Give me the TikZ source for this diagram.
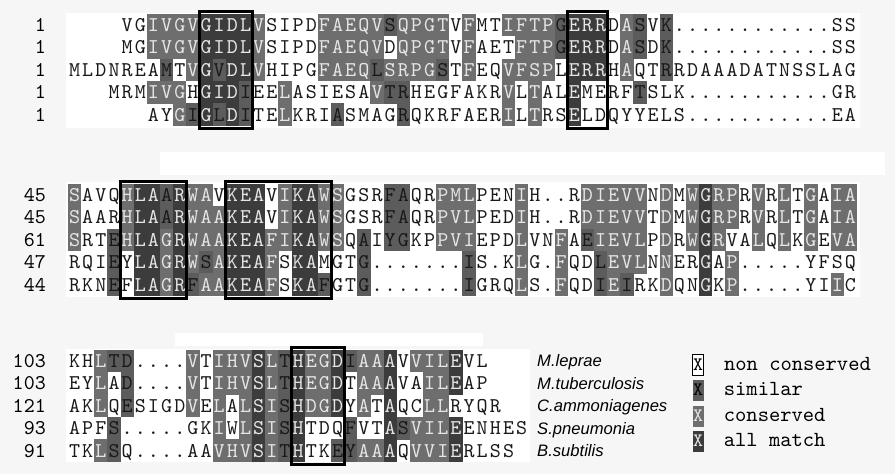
\documentclass[tikz,border=0pt]{standalone}
\usepackage{fontspec}
\newfontfamily\spfont{Liberation Sans}
\newfontfamily\seqfont{lmmono10-regular.otf}
\usepackage{xstring}
\usetikzlibrary{positioning}

\definecolor{pagebg}{HTML}{F6F6F6}
\definecolor{simgray}{HTML}{5C5C5C}
\definecolor{congray}{HTML}{6E6E6E}
\definecolor{allgray}{HTML}{3C3C3C}
\definecolor{lighttxt}{HTML}{E6E6E6}

\def\cw{13.15}\def\rh{22.4}
% one aligned row: row, first column, residues, shading classes
\newcommand{\alnrow}[4]{%
  \StrLen{#3}[\nres]
  \foreach \i in {1,...,\nres}{
    \StrChar{#3}{\i}[\resid]
    \StrChar{#4}{\i}[\rclass]
    \pgfmathsetmacro\bx{74.6+(#2+\i-1)*\cw}
    \pgfmathsetmacro\by{#1*\rh}
    \ifcase\rclass\relax
      \node[res] at (\bx,\by) {\resid};
    \or
      \node[res,fill=simgray] at (\bx,\by) {\resid};
    \or
      \node[res,fill=congray,text=lighttxt] at (\bx,\by) {\resid};
    \or
      \node[res,fill=allgray,text=lighttxt] at (\bx,\by) {\resid};
    \fi
  }}
% motif frame over columns #1..#2
\newcommand{\motif}[2]{%
  \pgfmathsetmacro\xa{68+#1*\cw}
  \pgfmathsetmacro\xb{68+(#2+1)*\cw}
  \draw[motifbox] (\xa,-14) rectangle (\xb,4*\rh+13.5);}

\begin{document}
\begin{tikzpicture}[x=1pt,y=-1pt,
  res/.style={inner sep=0pt,minimum width=13.3pt,minimum height=22.6pt,text height=12.8pt,text depth=0pt,font=\fontsize{21}{21}\seqfont,text=black!90},
  lbl/.style={anchor=east,inner sep=0pt,text height=12.8pt,text depth=0pt,font=\fontsize{21}{21}\seqfont},
  motifbox/.style={line width=3pt},
  key/.style={inner sep=0pt,minimum width=11pt,minimum height=21pt,font=\fontsize{19}{19}\seqfont},
  keytext/.style={anchor=west,inner sep=0pt,text height=10pt,text depth=0pt,font=\fontsize{21.5}{21.5}\seqfont},
  species/.style={anchor=west,inner sep=0pt,text height=11.9pt,text depth=0pt,font=\fontsize{16.6}{16.6}\spfont\itshape}]
  \useasboundingbox (0,0) rectangle (895,474);
  \fill[pagebg] (0,0) rectangle (895,474);
  \fill[white] (66,13) rectangle (860,128);
  \fill[white] (160,152) rectangle (885,175);
  \fill[white] (66,182) rectangle (860,297);
  \fill[white] (175,333) rectangle (483,346);
  \fill[white] (66,349) rectangle (530,462);

  % Block 1
  \begin{scope}[shift={(0,25)}]
    \foreach \n [count=\r from 0] in {1,1,1,1,1}
      \node[lbl] (numA\r) at (46,\r*\rh) {\n};
    \alnrow{0}{4}{VGIVGVGIDLVSIPDFAEQVSQPGTVFMTIFTPGERRDASVK............SS}
                 {00222233332000022222122220200222213330210100000000000000}
    \alnrow{1}{4}{MGIVGVGIDLVSIPDFAEQVDQPGTVFAETFTPGERRDASDK............SS}
                 {00222233332000022222022220200022213330210100000000000000}
    \alnrow{2}{0}{MLDNREAMTVGVDLVHIPGFAEQLSRPGSTFEQVFSPLERRHAQTRRDAAADATNSSLAG}
                 {000000010231332000022221222210200222203330200100000000000000}
    \alnrow{3}{3}{MRMIVGHGIDIEELASIESAVTRHEGFAKRVLTALEMERFTSLK...........GR}
                 {000222033310020000002110000000202003000010000000000000000}
    \alnrow{4}{6}{AYGIGLDITELKRIASMAGRQKRFAERILTRSELDQYYELS...........EA}
                 {002131310020001000010000000202003000000000000000000000}
    \motif{10}{13}
    \motif{38}{40}
  \end{scope}

  % Block 2
  \begin{scope}[shift={(0,195)}]
    \foreach \n [count=\r from 0] in {45,45,61,47,44}
      \node[lbl] (numB\r) at (46,\r*\rh) {\n};
    \alnrow{0}{0}{SAVQHLAARWAVKEAVIKAWSGSRFAQRPMLPENIH..RDIEVVNDMWGRPRVRLTGAIA}
                 {200023313220333023322000110022200020000222220202322020202022}
    \alnrow{1}{0}{SAARHLAARWAAKEAVIKAWSGSRFAQRPVLPEDIH..RDIEVVTDMWGRPRVRLTGAIA}
                 {200023313222333023322000110022200020000222220202322020202022}
    \alnrow{2}{0}{SRTEHLAGRWAAKEAFIKAWSQAIYGKPPVIEPDLVNFAEIEVLPDRWGRVALQLKGEVA}
                 {200123323222333223322010110022200020020122220202320020202022}
    \alnrow{3}{0}{RQIEYLAGRWSAKEAFSKAMGTG.......IS.KLG.FQDLEVLNNERGAP.....YFSQ}
                 {000103323212333203300010000000100020020012220200302000000000}
    \alnrow{4}{0}{RKNEFLAGRFAAKEAFSKAFGTG.......IGRQLS.FQDIEIRKDQNGKP.....YIIC}
                 {000103323122333203310010000000100020020012100200302000000020}
    \motif{4}{8}
    \motif{12}{19}
  \end{scope}

  % Block 3
  \begin{scope}[shift={(0,361)}]
    \foreach \n [count=\r from 0] in {103,103,121,93,91}
      \node[lbl] (numC\r) at (46,\r*\rh) {\n};
    \alnrow{0}{0}{KHLTD....VTIHVSLTHEGDIAAAVVILEVL}
                 {00211000020222321322312230222300}
    \alnrow{1}{0}{EYLAD....VTIHVSLTHEGDTAAAVAILEAP}
                 {00201000020222321322302230022300}
    \alnrow{2}{0}{AKLQESIGDVELALSISHDGDYATAQCLLRYQR}
                 {002010000202023213223020300220000}
    \alnrow{3}{0}{APFS.....GKIWLSISHTDQFVTASVILEENHES}
                 {00010000000202321300010031222300000}
    \alnrow{4}{0}{TKLSQ....AAVHVSITHTKEYAAAQVVIERLSS}
                 {0021000000022232130011223022230000}
    \motif{17}{20}
    \node[species] (sp1) at (537,0) {M.leprae};
    \node[species] (sp2) at (537,\rh) {M.tuberculosis};
    \node[species] (sp3) at (537,2*\rh) {C.ammoniagenes};
    \node[species] (sp4) at (537,3*\rh) {S.pneumonia};
    \node[species] (sp5) at (537,4*\rh) {B.subtilis};
  \end{scope}

  % Legend
  \node[key,draw,line width=0.8pt,fill=white] (key0) at (698,365) {X};
  \node[key,fill=simgray] (key1) at (698,390) {X};
  \node[key,fill=congray,text=lighttxt] (key2) at (698,416) {X};
  \node[key,fill=allgray,text=lighttxt] (key3) at (698,441) {X};
  \node[keytext,right=20pt of key0] (txt0) {non conserved};
  \node[keytext,right=20pt of key1] (txt1) {similar};
  \node[keytext,right=20pt of key2] (txt2) {conserved};
  \node[keytext,right=20pt of key3] (txt3) {all match};
\end{tikzpicture}
\end{document}
